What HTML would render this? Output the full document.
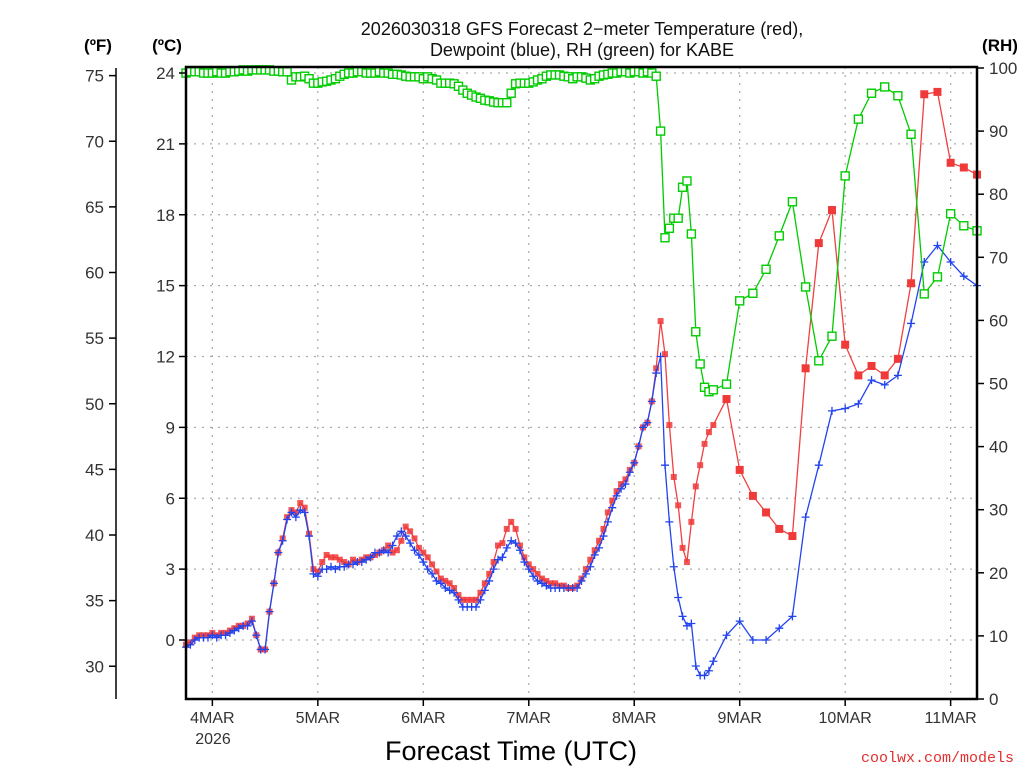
<!DOCTYPE html>
<html><head><meta charset="utf-8"><style>
body{margin:0;background:#fff}
svg{display:block;font-family:"Liberation Sans",sans-serif}
</style></head><body>
<svg id="chart" width="1024" height="768" viewBox="0 0 1024 768"></svg>
<script>
// hours after 2026-03-03 18z
const hours=[];for(let h=0;h<=120;h++)hours.push(h);for(let h=123;h<=180;h+=3)hours.push(h);
const tempC=[-0.2,-0.1,0.1,0.2,0.2,0.2,0.3,0.2,0.3,0.3,0.4,0.5,0.6,0.6,0.7,0.9,0.2,-0.4,-0.4,1.2,2.4,3.7,4.3,5.2,5.5,5.4,5.8,5.6,4.5,3.0,2.9,3.3,3.6,3.5,3.5,3.4,3.3,3.2,3.4,3.3,3.4,3.5,3.5,3.6,3.7,3.8,4.0,3.7,3.8,4.2,4.8,4.6,4.3,3.9,3.7,3.5,3.2,2.9,2.6,2.5,2.4,2.2,1.9,1.7,1.7,1.7,1.7,2.0,2.4,2.8,3.3,4.0,4.1,4.7,5.0,4.7,4.0,3.5,3.2,3.0,2.8,2.6,2.5,2.4,2.4,2.3,2.3,2.2,2.2,2.3,2.6,3.0,3.4,3.8,4.2,4.7,5.4,5.9,6.3,6.6,6.8,7.2,7.5,8.2,9.0,9.2,10.1,11.5,13.5,12.1,9.1,6.9,5.7,3.9,3.3,5.0,6.5,7.4,8.3,8.8,9.1,
10.2,7.2,6.1,5.4,4.7,4.4,11.5,16.8,18.2,12.5,11.2,11.6,11.2,11.9,15.1,23.1,23.2,20.2,20.0,19.7];
const dewC=[-0.3,-0.2,0,0.1,0.1,0.1,0.2,0.1,0.2,0.2,0.3,0.4,0.5,0.6,0.6,0.8,0.2,-0.4,-0.4,1.2,2.4,3.7,4.2,5.1,5.4,5.2,5.5,5.4,4.4,2.8,2.7,3.0,3.0,3.1,3.0,3.1,3.1,3.2,3.2,3.3,3.3,3.4,3.5,3.7,3.7,3.8,3.7,4.0,4.4,4.6,4.4,4.1,3.8,3.6,3.3,3.0,2.8,2.5,2.4,2.2,2.1,2.0,1.7,1.4,1.4,1.4,1.4,1.7,2.1,2.5,3.0,3.4,3.5,3.9,4.2,4.1,3.8,3.3,3.0,2.7,2.5,2.4,2.3,2.2,2.2,2.2,2.2,2.2,2.2,2.2,2.5,2.8,3.1,3.6,3.9,4.4,5.0,5.6,6.1,6.4,6.6,7.1,7.5,8.2,9.0,9.2,10.1,11.3,12.0,7.4,5.0,3.1,1.8,1.0,0.6,0.7,-1.1,-1.5,-1.5,-1.3,-0.9,
0.2,0.8,0,0,0.5,1.0,5.2,7.4,9.7,9.8,10.0,11.0,10.8,11.2,13.4,16.0,16.7,16.0,15.4,15.0];
const rh=[99.2,99.4,99.4,99.4,99.2,99.2,99.2,99.4,99.2,99.2,99.4,99.4,99.5,99.7,99.5,99.7,99.7,99.7,99.7,99.7,99.5,99.5,99.4,99.4,98.1,98.6,98.6,98.7,98.3,97.6,97.6,97.8,97.9,98.1,98.3,98.7,99.0,99.2,99.2,99.4,99.4,99.2,99.2,99.2,99.4,99.2,99.2,99.0,99.0,98.9,98.7,98.6,98.6,98.6,98.3,98.6,98.3,98.1,97.6,97.6,97.6,97.5,97.1,96.5,96.0,95.7,95.4,95.2,94.9,94.8,94.6,94.5,94.5,94.5,96.0,97.5,97.6,97.6,97.6,97.8,98.1,98.3,98.7,98.9,98.9,98.9,98.7,98.6,98.3,98.6,98.6,98.4,98.1,98.3,98.7,98.9,99.0,99.2,99.2,99.4,99.4,99.2,99.4,99.4,99.2,99.4,99.2,98.7,90.0,73.1,74.6,76.2,76.2,81.1,82.1,73.7,58.2,53.1,49.4,48.7,49.0,
49.9,63.1,64.3,68.1,73.4,78.8,65.3,53.6,57.5,82.9,91.9,96.0,97.0,95.6,89.5,64.2,66.9,76.9,75.0,74.2];
const cTicks=[0,3,6,9,12,15,18,21,24];
const fTicks=[30,35,40,45,50,55,60,65,70,75];
const rhTicks=[0,10,20,30,40,50,60,70,80,90,100];
const dayLabels=["4MAR","5MAR","6MAR","7MAR","8MAR","9MAR","10MAR","11MAR"];
const dayHours=[6,30,54,78,102,126,150,174];

const L=186,R=977,T=67,B=699;
const xS=h=>L+h*(R-L)/180;
const yC=c=>640-c*23.625;
const yF=f=>yC((f-32)/1.8);
const yR=v=>699-v*6.31;
const svg=document.getElementById('chart');
const NS='http://www.w3.org/2000/svg';
function mk(tag,attrs,parent){const e=document.createElementNS(NS,tag);for(const k in attrs)e.setAttribute(k,attrs[k]);(parent||svg).appendChild(e);return e;}
function txt(s,attrs){const e=mk('text',attrs);e.textContent=s;return e;}

const grid=mk('g',{stroke:'#aaa','stroke-width':1.2,'stroke-dasharray':'2,6'});


cTicks.forEach(c=>mk('line',{x1:L,x2:R,y1:yC(c),y2:yC(c)},grid));
dayHours.forEach(h=>mk('line',{x1:xS(h),x2:xS(h),y1:T,y2:B},grid));

function series(vals,yf,color,name){
  const pts=hours.map((h,i)=>xS(h).toFixed(1)+','+yf(vals[i]).toFixed(1)).join(' ');
  const pl=mk('polyline',{points:pts,fill:'none',stroke:color,'stroke-width':1.3});
  
  
}
series(tempC,yC,'#f04040','temperature');
const tg=mk('g',{fill:'#f03a3a'});


hours.forEach((h,i)=>{const s=h<=120?6:8;mk('rect',{x:xS(h)-s/2,y:yC(tempC[i])-s/2,width:s,height:s,'fill-opacity':h<=120?0.85:1},tg);});
series(dewC,yC,'#2244ee','dewpoint');
const dg=mk('g',{stroke:'#2244ee','stroke-width':1.3});


hours.forEach((h,i)=>{const x=xS(h),y=yC(dewC[i]);mk('path',{d:`M${x-4},${y}h8M${x},${y-4}v8`},dg);});
series(rh,yR,'#00cc00','rh');
const gg=mk('g',{stroke:'#00cc00','stroke-width':1.4,fill:'#fff'});


hours.forEach((h,i)=>mk('rect',{x:xS(h)-4,y:yR(rh[i])-4,width:8,height:8},gg));

const fr=mk('rect',{x:L,y:T,width:R-L,height:B-T,fill:'none',stroke:'#000','stroke-width':2.5});


const ax=mk('g',{stroke:'#000','stroke-width':1.5});


mk('line',{x1:116,x2:116,y1:68,y2:699},ax);
fTicks.forEach(f=>mk('line',{x1:109,x2:116,y1:yF(f),y2:yF(f)},ax));
cTicks.forEach(c=>mk('line',{x1:179,x2:186,y1:yC(c),y2:yC(c)},ax));
rhTicks.forEach(v=>mk('line',{x1:977,x2:984,y1:yR(v),y2:yR(v)},ax));
dayHours.forEach(h=>mk('line',{x1:xS(h),x2:xS(h),y1:699,y2:706},ax));
const ls={'font-size':17,fill:'#333'};
fTicks.forEach(f=>{const t=txt(String(f),Object.assign({x:104,y:yF(f)+6,'text-anchor':'end'},ls));});
cTicks.forEach(c=>{const t=txt(String(c),Object.assign({x:175,y:yC(c)+6,'text-anchor':'end'},ls));});
rhTicks.forEach(v=>{const t=txt(String(v),Object.assign({x:989,y:yR(v)+6},ls));});
dayHours.forEach((h,i)=>{const t=txt(dayLabels[i],Object.assign({x:xS(h),y:723,'text-anchor':'middle'},{'font-size':16,fill:'#333'}));});
</script>
<svg width="1024" height="768" style="position:absolute;left:0;top:0">
<text x="213" y="744" text-anchor="middle" font-size="16" fill="#333" font-family="Liberation Sans,sans-serif">2026</text>
<text x="582" y="35" text-anchor="middle" font-size="18" fill="#111" font-family="Liberation Sans,sans-serif">2026030318 GFS Forecast 2−meter Temperature (red),</text>
<text x="582" y="56" text-anchor="middle" font-size="18" fill="#111" font-family="Liberation Sans,sans-serif">Dewpoint (blue), RH (green) for KABE</text>
<text x="98" y="51" text-anchor="middle" font-size="17" font-weight="bold" fill="#000" font-family="Liberation Sans,sans-serif">(ºF)</text>
<text x="167" y="51" text-anchor="middle" font-size="17" font-weight="bold" fill="#000" font-family="Liberation Sans,sans-serif">(ºC)</text>
<text x="1000" y="51" text-anchor="middle" font-size="17" font-weight="bold" fill="#000" font-family="Liberation Sans,sans-serif">(RH)</text>
<text x="511" y="760" text-anchor="middle" font-size="27" fill="#000" font-family="Liberation Sans,sans-serif">Forecast Time (UTC)</text>
<text x="1014" y="762" text-anchor="end" font-size="15" fill="#e03030" font-family="Liberation Mono,monospace">coolwx.com/models</text>
</svg>
</body></html>
